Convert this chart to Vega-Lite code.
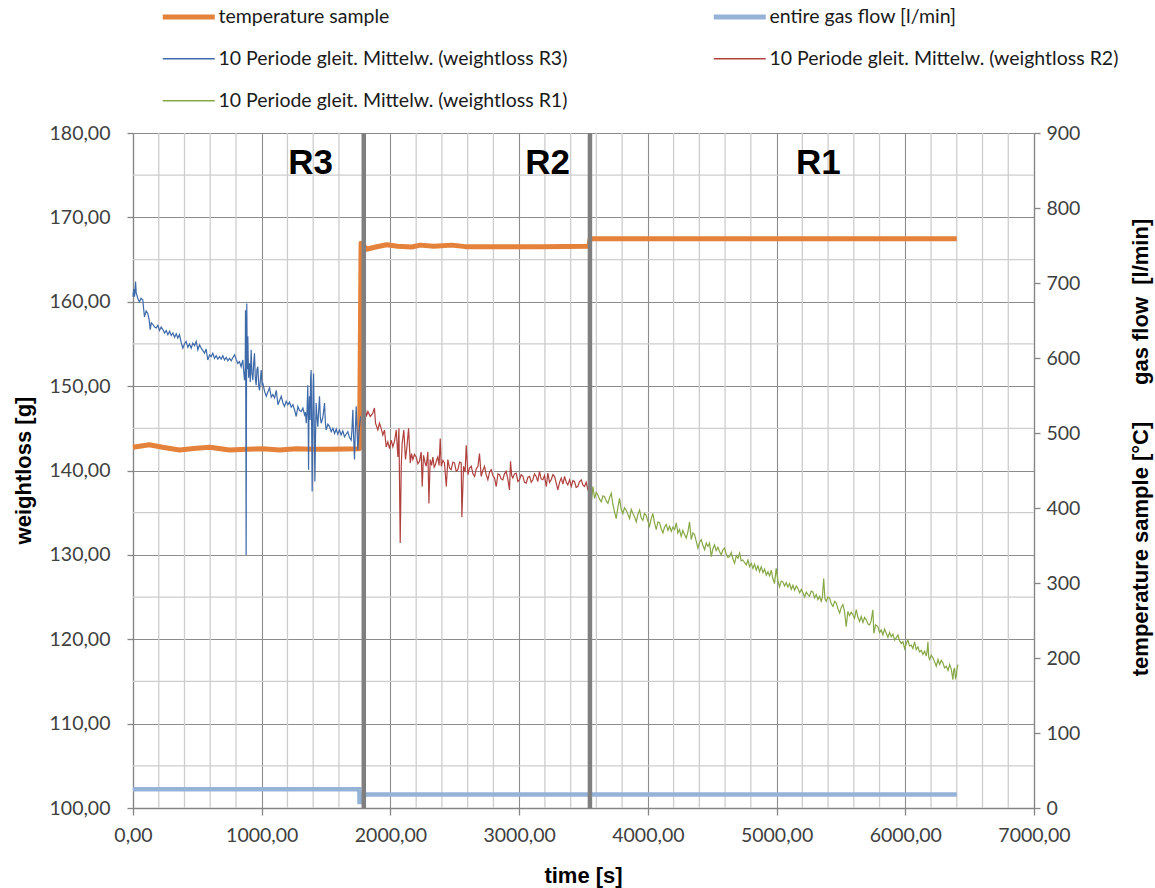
{
  "$schema": "https://vega.github.io/schema/vega-lite/v6.json",
  "width": 901,
  "height": 675,
  "autosize": {"type": "none"},
  "padding": {"left": 133, "top": 133, "right": 121, "bottom": 80},
  "background": "white",
  "config": {
    "view": {"stroke": null},
    "font": "Liberation Sans",
    "axis": {
      "labelFont": "Lato",
      "labelFontSize": 19.5,
      "labelColor": "#404040",
      "titleFont": "Liberation Sans",
      "titleFontSize": 22,
      "titleFontWeight": "bold",
      "titleColor": "#000000",
      "domainColor": "#868686",
      "domainWidth": 1.3,
      "tickColor": "#868686",
      "tickWidth": 1.3,
      "gridColor": "#8c8c8c",
      "gridWidth": 1.1,
      "labelFlush": false,
      "labelOverlap": false,
      "labelBound": false
    },
    "legend": {
      "orient": "none",
      "legendX": 30,
      "legendY": -126,
      "columns": 2,
      "columnPadding": 135,
      "rowPadding": 21,
      "padding": 0,
      "symbolType": "M-1,0H4.2",
      "symbolSize": 400,
      "labelFont": "Lato",
      "labelFontSize": 19.5,
      "labelColor": "#1a1a1a",
      "labelOffset": 36,
      "labelLimit": 0
    }
  },
  "datasets": {
    "minorX": [
      {"t": 200}, {"t": 400}, {"t": 600}, {"t": 800},
      {"t": 1200}, {"t": 1400}, {"t": 1600}, {"t": 1800},
      {"t": 2200}, {"t": 2400}, {"t": 2600}, {"t": 2800},
      {"t": 3200}, {"t": 3400}, {"t": 3600}, {"t": 3800},
      {"t": 4200}, {"t": 4400}, {"t": 4600}, {"t": 4800},
      {"t": 5200}, {"t": 5400}, {"t": 5600}, {"t": 5800},
      {"t": 6200}, {"t": 6400}, {"t": 6600}, {"t": 6800}
    ],
    "minorY": [
      {"w": 105}, {"w": 115}, {"w": 125}, {"w": 135},
      {"w": 145}, {"w": 155}, {"w": 165}, {"w": 175}
    ],
    "phaseLabels": [
      {"t": 1380, "w": 176.4, "label": "R3"},
      {"t": 3222, "w": 176.4, "label": "R2"},
      {"t": 5324, "w": 176.4, "label": "R1"}
    ],
    "phaseBounds": [{"t": 1793}, {"t": 3550}],
    "temp": [
      {"t": 0, "v": 481, "series": "temperature sample"},
      {"t": 128, "v": 484.4, "series": "temperature sample"},
      {"t": 229, "v": 481, "series": "temperature sample"},
      {"t": 361, "v": 477.3, "series": "temperature sample"},
      {"t": 491, "v": 479.6, "series": "temperature sample"},
      {"t": 595, "v": 481, "series": "temperature sample"},
      {"t": 750, "v": 477.3, "series": "temperature sample"},
      {"t": 880, "v": 478.2, "series": "temperature sample"},
      {"t": 1009, "v": 479.1, "series": "temperature sample"},
      {"t": 1139, "v": 477.3, "series": "temperature sample"},
      {"t": 1269, "v": 479, "series": "temperature sample"},
      {"t": 1395, "v": 478.2, "series": "temperature sample"},
      {"t": 1527, "v": 478.2, "series": "temperature sample"},
      {"t": 1760, "v": 479, "series": "temperature sample"},
      {"t": 1772, "v": 753, "series": "temperature sample"},
      {"t": 1815, "v": 745, "series": "temperature sample"},
      {"t": 1885, "v": 748, "series": "temperature sample"},
      {"t": 1971, "v": 751, "series": "temperature sample"},
      {"t": 2056, "v": 749, "series": "temperature sample"},
      {"t": 2165, "v": 748, "series": "temperature sample"},
      {"t": 2233, "v": 750.5, "series": "temperature sample"},
      {"t": 2336, "v": 749, "series": "temperature sample"},
      {"t": 2476, "v": 750.5, "series": "temperature sample"},
      {"t": 2582, "v": 748.5, "series": "temperature sample"},
      {"t": 2826, "v": 748.5, "series": "temperature sample"},
      {"t": 3174, "v": 748.5, "series": "temperature sample"},
      {"t": 3541, "v": 749, "series": "temperature sample"},
      {"t": 3552, "v": 759, "series": "temperature sample"},
      {"t": 6400, "v": 759, "series": "temperature sample"}
    ],
    "gas": [
      {"t": 0, "v": 25, "series": "entire gas flow [l/min]"},
      {"t": 1758, "v": 25, "series": "entire gas flow [l/min]"},
      {"t": 1760, "v": 8, "series": "entire gas flow [l/min]"},
      {"t": 1765, "v": 8, "series": "entire gas flow [l/min]"},
      {"t": 1768, "v": 18, "series": "entire gas flow [l/min]"},
      {"t": 6400, "v": 18, "series": "entire gas flow [l/min]"}
    ],
    "weight": [
      {"t": 0, "w": 160.6, "series": "10 Periode gleit. Mittelw. (weightloss R3)"},
      {"t": 6, "w": 161.5, "series": "10 Periode gleit. Mittelw. (weightloss R3)"},
      {"t": 12, "w": 160.6, "series": "10 Periode gleit. Mittelw. (weightloss R3)"},
      {"t": 20, "w": 162.4, "series": "10 Periode gleit. Mittelw. (weightloss R3)"},
      {"t": 25, "w": 161.0, "series": "10 Periode gleit. Mittelw. (weightloss R3)"},
      {"t": 30, "w": 160.8, "series": "10 Periode gleit. Mittelw. (weightloss R3)"},
      {"t": 40, "w": 160.3, "series": "10 Periode gleit. Mittelw. (weightloss R3)"},
      {"t": 50, "w": 160.0, "series": "10 Periode gleit. Mittelw. (weightloss R3)"},
      {"t": 62, "w": 160.4, "series": "10 Periode gleit. Mittelw. (weightloss R3)"},
      {"t": 76, "w": 160.2, "series": "10 Periode gleit. Mittelw. (weightloss R3)"},
      {"t": 89, "w": 158.2, "series": "10 Periode gleit. Mittelw. (weightloss R3)"},
      {"t": 102, "w": 158.9, "series": "10 Periode gleit. Mittelw. (weightloss R3)"},
      {"t": 115, "w": 158.6, "series": "10 Periode gleit. Mittelw. (weightloss R3)"},
      {"t": 125, "w": 157.9, "series": "10 Periode gleit. Mittelw. (weightloss R3)"},
      {"t": 134, "w": 156.7, "series": "10 Periode gleit. Mittelw. (weightloss R3)"},
      {"t": 142, "w": 157.5, "series": "10 Periode gleit. Mittelw. (weightloss R3)"},
      {"t": 155, "w": 157.3, "series": "10 Periode gleit. Mittelw. (weightloss R3)"},
      {"t": 168, "w": 157.0, "series": "10 Periode gleit. Mittelw. (weightloss R3)"},
      {"t": 180, "w": 156.9, "series": "10 Periode gleit. Mittelw. (weightloss R3)"},
      {"t": 193, "w": 157.2, "series": "10 Periode gleit. Mittelw. (weightloss R3)"},
      {"t": 206, "w": 156.6, "series": "10 Periode gleit. Mittelw. (weightloss R3)"},
      {"t": 219, "w": 157.0, "series": "10 Periode gleit. Mittelw. (weightloss R3)"},
      {"t": 232, "w": 156.7, "series": "10 Periode gleit. Mittelw. (weightloss R3)"},
      {"t": 245, "w": 156.3, "series": "10 Periode gleit. Mittelw. (weightloss R3)"},
      {"t": 258, "w": 156.6, "series": "10 Periode gleit. Mittelw. (weightloss R3)"},
      {"t": 271, "w": 156.1, "series": "10 Periode gleit. Mittelw. (weightloss R3)"},
      {"t": 284, "w": 156.5, "series": "10 Periode gleit. Mittelw. (weightloss R3)"},
      {"t": 297, "w": 156.0, "series": "10 Periode gleit. Mittelw. (weightloss R3)"},
      {"t": 310, "w": 156.3, "series": "10 Periode gleit. Mittelw. (weightloss R3)"},
      {"t": 323, "w": 155.8, "series": "10 Periode gleit. Mittelw. (weightloss R3)"},
      {"t": 336, "w": 156.2, "series": "10 Periode gleit. Mittelw. (weightloss R3)"},
      {"t": 348, "w": 155.7, "series": "10 Periode gleit. Mittelw. (weightloss R3)"},
      {"t": 361, "w": 156.1, "series": "10 Periode gleit. Mittelw. (weightloss R3)"},
      {"t": 374, "w": 155.2, "series": "10 Periode gleit. Mittelw. (weightloss R3)"},
      {"t": 387, "w": 154.5, "series": "10 Periode gleit. Mittelw. (weightloss R3)"},
      {"t": 400, "w": 155.0, "series": "10 Periode gleit. Mittelw. (weightloss R3)"},
      {"t": 413, "w": 155.3, "series": "10 Periode gleit. Mittelw. (weightloss R3)"},
      {"t": 426, "w": 154.6, "series": "10 Periode gleit. Mittelw. (weightloss R3)"},
      {"t": 439, "w": 155.0, "series": "10 Periode gleit. Mittelw. (weightloss R3)"},
      {"t": 452, "w": 154.5, "series": "10 Periode gleit. Mittelw. (weightloss R3)"},
      {"t": 465, "w": 155.1, "series": "10 Periode gleit. Mittelw. (weightloss R3)"},
      {"t": 478, "w": 154.8, "series": "10 Periode gleit. Mittelw. (weightloss R3)"},
      {"t": 491, "w": 155.3, "series": "10 Periode gleit. Mittelw. (weightloss R3)"},
      {"t": 504, "w": 154.3, "series": "10 Periode gleit. Mittelw. (weightloss R3)"},
      {"t": 517, "w": 154.9, "series": "10 Periode gleit. Mittelw. (weightloss R3)"},
      {"t": 530, "w": 154.5, "series": "10 Periode gleit. Mittelw. (weightloss R3)"},
      {"t": 543, "w": 154.2, "series": "10 Periode gleit. Mittelw. (weightloss R3)"},
      {"t": 556, "w": 153.9, "series": "10 Periode gleit. Mittelw. (weightloss R3)"},
      {"t": 568, "w": 154.4, "series": "10 Periode gleit. Mittelw. (weightloss R3)"},
      {"t": 581, "w": 153.1, "series": "10 Periode gleit. Mittelw. (weightloss R3)"},
      {"t": 595, "w": 153.7, "series": "10 Periode gleit. Mittelw. (weightloss R3)"},
      {"t": 607, "w": 153.5, "series": "10 Periode gleit. Mittelw. (weightloss R3)"},
      {"t": 620, "w": 153.9, "series": "10 Periode gleit. Mittelw. (weightloss R3)"},
      {"t": 633, "w": 153.3, "series": "10 Periode gleit. Mittelw. (weightloss R3)"},
      {"t": 646, "w": 153.6, "series": "10 Periode gleit. Mittelw. (weightloss R3)"},
      {"t": 659, "w": 153.2, "series": "10 Periode gleit. Mittelw. (weightloss R3)"},
      {"t": 672, "w": 153.5, "series": "10 Periode gleit. Mittelw. (weightloss R3)"},
      {"t": 685, "w": 153.2, "series": "10 Periode gleit. Mittelw. (weightloss R3)"},
      {"t": 698, "w": 153.6, "series": "10 Periode gleit. Mittelw. (weightloss R3)"},
      {"t": 711, "w": 153.1, "series": "10 Periode gleit. Mittelw. (weightloss R3)"},
      {"t": 724, "w": 153.4, "series": "10 Periode gleit. Mittelw. (weightloss R3)"},
      {"t": 737, "w": 153.0, "series": "10 Periode gleit. Mittelw. (weightloss R3)"},
      {"t": 750, "w": 153.3, "series": "10 Periode gleit. Mittelw. (weightloss R3)"},
      {"t": 763, "w": 153.0, "series": "10 Periode gleit. Mittelw. (weightloss R3)"},
      {"t": 776, "w": 153.4, "series": "10 Periode gleit. Mittelw. (weightloss R3)"},
      {"t": 789, "w": 153.7, "series": "10 Periode gleit. Mittelw. (weightloss R3)"},
      {"t": 801, "w": 153.2, "series": "10 Periode gleit. Mittelw. (weightloss R3)"},
      {"t": 814, "w": 152.7, "series": "10 Periode gleit. Mittelw. (weightloss R3)"},
      {"t": 827, "w": 152.9, "series": "10 Periode gleit. Mittelw. (weightloss R3)"},
      {"t": 840, "w": 152.3, "series": "10 Periode gleit. Mittelw. (weightloss R3)"},
      {"t": 853, "w": 153.1, "series": "10 Periode gleit. Mittelw. (weightloss R3)"},
      {"t": 866, "w": 150.7, "series": "10 Periode gleit. Mittelw. (weightloss R3)"},
      {"t": 872, "w": 152.0, "series": "10 Periode gleit. Mittelw. (weightloss R3)"},
      {"t": 874, "w": 159.0, "series": "10 Periode gleit. Mittelw. (weightloss R3)"},
      {"t": 877, "w": 145.0, "series": "10 Periode gleit. Mittelw. (weightloss R3)"},
      {"t": 879, "w": 130.0, "series": "10 Periode gleit. Mittelw. (weightloss R3)"},
      {"t": 881, "w": 145.0, "series": "10 Periode gleit. Mittelw. (weightloss R3)"},
      {"t": 884, "w": 159.8, "series": "10 Periode gleit. Mittelw. (weightloss R3)"},
      {"t": 888, "w": 152.0, "series": "10 Periode gleit. Mittelw. (weightloss R3)"},
      {"t": 892, "w": 155.9, "series": "10 Periode gleit. Mittelw. (weightloss R3)"},
      {"t": 898, "w": 151.0, "series": "10 Periode gleit. Mittelw. (weightloss R3)"},
      {"t": 905, "w": 152.7, "series": "10 Periode gleit. Mittelw. (weightloss R3)"},
      {"t": 911, "w": 150.5, "series": "10 Periode gleit. Mittelw. (weightloss R3)"},
      {"t": 918, "w": 154.3, "series": "10 Periode gleit. Mittelw. (weightloss R3)"},
      {"t": 924, "w": 151.5, "series": "10 Periode gleit. Mittelw. (weightloss R3)"},
      {"t": 931, "w": 150.7, "series": "10 Periode gleit. Mittelw. (weightloss R3)"},
      {"t": 938, "w": 152.8, "series": "10 Periode gleit. Mittelw. (weightloss R3)"},
      {"t": 944, "w": 153.9, "series": "10 Periode gleit. Mittelw. (weightloss R3)"},
      {"t": 950, "w": 151.0, "series": "10 Periode gleit. Mittelw. (weightloss R3)"},
      {"t": 957, "w": 150.1, "series": "10 Periode gleit. Mittelw. (weightloss R3)"},
      {"t": 963, "w": 152.0, "series": "10 Periode gleit. Mittelw. (weightloss R3)"},
      {"t": 970, "w": 152.3, "series": "10 Periode gleit. Mittelw. (weightloss R3)"},
      {"t": 977, "w": 150.0, "series": "10 Periode gleit. Mittelw. (weightloss R3)"},
      {"t": 983, "w": 149.5, "series": "10 Periode gleit. Mittelw. (weightloss R3)"},
      {"t": 990, "w": 150.8, "series": "10 Periode gleit. Mittelw. (weightloss R3)"},
      {"t": 996, "w": 151.9, "series": "10 Periode gleit. Mittelw. (weightloss R3)"},
      {"t": 1003, "w": 150.2, "series": "10 Periode gleit. Mittelw. (weightloss R3)"},
      {"t": 1009, "w": 150.3, "series": "10 Periode gleit. Mittelw. (weightloss R3)"},
      {"t": 1022, "w": 149.4, "series": "10 Periode gleit. Mittelw. (weightloss R3)"},
      {"t": 1035, "w": 148.8, "series": "10 Periode gleit. Mittelw. (weightloss R3)"},
      {"t": 1048, "w": 149.3, "series": "10 Periode gleit. Mittelw. (weightloss R3)"},
      {"t": 1061, "w": 149.8, "series": "10 Periode gleit. Mittelw. (weightloss R3)"},
      {"t": 1074, "w": 148.7, "series": "10 Periode gleit. Mittelw. (weightloss R3)"},
      {"t": 1087, "w": 149.0, "series": "10 Periode gleit. Mittelw. (weightloss R3)"},
      {"t": 1100, "w": 148.6, "series": "10 Periode gleit. Mittelw. (weightloss R3)"},
      {"t": 1113, "w": 149.5, "series": "10 Periode gleit. Mittelw. (weightloss R3)"},
      {"t": 1126, "w": 147.8, "series": "10 Periode gleit. Mittelw. (weightloss R3)"},
      {"t": 1139, "w": 148.3, "series": "10 Periode gleit. Mittelw. (weightloss R3)"},
      {"t": 1152, "w": 148.8, "series": "10 Periode gleit. Mittelw. (weightloss R3)"},
      {"t": 1165, "w": 148.0, "series": "10 Periode gleit. Mittelw. (weightloss R3)"},
      {"t": 1177, "w": 147.6, "series": "10 Periode gleit. Mittelw. (weightloss R3)"},
      {"t": 1190, "w": 148.2, "series": "10 Periode gleit. Mittelw. (weightloss R3)"},
      {"t": 1203, "w": 147.8, "series": "10 Periode gleit. Mittelw. (weightloss R3)"},
      {"t": 1216, "w": 148.1, "series": "10 Periode gleit. Mittelw. (weightloss R3)"},
      {"t": 1229, "w": 147.5, "series": "10 Periode gleit. Mittelw. (weightloss R3)"},
      {"t": 1242, "w": 147.8, "series": "10 Periode gleit. Mittelw. (weightloss R3)"},
      {"t": 1255, "w": 147.2, "series": "10 Periode gleit. Mittelw. (weightloss R3)"},
      {"t": 1268, "w": 146.4, "series": "10 Periode gleit. Mittelw. (weightloss R3)"},
      {"t": 1281, "w": 147.6, "series": "10 Periode gleit. Mittelw. (weightloss R3)"},
      {"t": 1294, "w": 147.1, "series": "10 Periode gleit. Mittelw. (weightloss R3)"},
      {"t": 1307, "w": 147.0, "series": "10 Periode gleit. Mittelw. (weightloss R3)"},
      {"t": 1320, "w": 147.4, "series": "10 Periode gleit. Mittelw. (weightloss R3)"},
      {"t": 1333, "w": 146.6, "series": "10 Periode gleit. Mittelw. (weightloss R3)"},
      {"t": 1340, "w": 146.9, "series": "10 Periode gleit. Mittelw. (weightloss R3)"},
      {"t": 1346, "w": 145.6, "series": "10 Periode gleit. Mittelw. (weightloss R3)"},
      {"t": 1352, "w": 147.0, "series": "10 Periode gleit. Mittelw. (weightloss R3)"},
      {"t": 1358, "w": 150.1, "series": "10 Periode gleit. Mittelw. (weightloss R3)"},
      {"t": 1361, "w": 146.0, "series": "10 Periode gleit. Mittelw. (weightloss R3)"},
      {"t": 1364, "w": 140.1, "series": "10 Periode gleit. Mittelw. (weightloss R3)"},
      {"t": 1367, "w": 146.5, "series": "10 Periode gleit. Mittelw. (weightloss R3)"},
      {"t": 1371, "w": 148.8, "series": "10 Periode gleit. Mittelw. (weightloss R3)"},
      {"t": 1376, "w": 146.0, "series": "10 Periode gleit. Mittelw. (weightloss R3)"},
      {"t": 1380, "w": 151.0, "series": "10 Periode gleit. Mittelw. (weightloss R3)"},
      {"t": 1384, "w": 151.9, "series": "10 Periode gleit. Mittelw. (weightloss R3)"},
      {"t": 1388, "w": 145.0, "series": "10 Periode gleit. Mittelw. (weightloss R3)"},
      {"t": 1392, "w": 137.5, "series": "10 Periode gleit. Mittelw. (weightloss R3)"},
      {"t": 1396, "w": 144.5, "series": "10 Periode gleit. Mittelw. (weightloss R3)"},
      {"t": 1400, "w": 150.0, "series": "10 Periode gleit. Mittelw. (weightloss R3)"},
      {"t": 1403, "w": 151.5, "series": "10 Periode gleit. Mittelw. (weightloss R3)"},
      {"t": 1408, "w": 145.5, "series": "10 Periode gleit. Mittelw. (weightloss R3)"},
      {"t": 1413, "w": 138.7, "series": "10 Periode gleit. Mittelw. (weightloss R3)"},
      {"t": 1418, "w": 144.0, "series": "10 Periode gleit. Mittelw. (weightloss R3)"},
      {"t": 1423, "w": 148.0, "series": "10 Periode gleit. Mittelw. (weightloss R3)"},
      {"t": 1430, "w": 146.2, "series": "10 Periode gleit. Mittelw. (weightloss R3)"},
      {"t": 1436, "w": 145.2, "series": "10 Periode gleit. Mittelw. (weightloss R3)"},
      {"t": 1442, "w": 147.0, "series": "10 Periode gleit. Mittelw. (weightloss R3)"},
      {"t": 1449, "w": 148.8, "series": "10 Periode gleit. Mittelw. (weightloss R3)"},
      {"t": 1455, "w": 146.4, "series": "10 Periode gleit. Mittelw. (weightloss R3)"},
      {"t": 1462, "w": 145.6, "series": "10 Periode gleit. Mittelw. (weightloss R3)"},
      {"t": 1475, "w": 146.3, "series": "10 Periode gleit. Mittelw. (weightloss R3)"},
      {"t": 1488, "w": 148.0, "series": "10 Periode gleit. Mittelw. (weightloss R3)"},
      {"t": 1495, "w": 145.6, "series": "10 Periode gleit. Mittelw. (weightloss R3)"},
      {"t": 1501, "w": 144.8, "series": "10 Periode gleit. Mittelw. (weightloss R3)"},
      {"t": 1514, "w": 145.5, "series": "10 Periode gleit. Mittelw. (weightloss R3)"},
      {"t": 1527, "w": 145.2, "series": "10 Periode gleit. Mittelw. (weightloss R3)"},
      {"t": 1540, "w": 144.6, "series": "10 Periode gleit. Mittelw. (weightloss R3)"},
      {"t": 1553, "w": 145.0, "series": "10 Periode gleit. Mittelw. (weightloss R3)"},
      {"t": 1566, "w": 144.4, "series": "10 Periode gleit. Mittelw. (weightloss R3)"},
      {"t": 1579, "w": 144.9, "series": "10 Periode gleit. Mittelw. (weightloss R3)"},
      {"t": 1591, "w": 144.3, "series": "10 Periode gleit. Mittelw. (weightloss R3)"},
      {"t": 1604, "w": 144.8, "series": "10 Periode gleit. Mittelw. (weightloss R3)"},
      {"t": 1617, "w": 144.2, "series": "10 Periode gleit. Mittelw. (weightloss R3)"},
      {"t": 1630, "w": 144.7, "series": "10 Periode gleit. Mittelw. (weightloss R3)"},
      {"t": 1643, "w": 144.0, "series": "10 Periode gleit. Mittelw. (weightloss R3)"},
      {"t": 1656, "w": 144.3, "series": "10 Periode gleit. Mittelw. (weightloss R3)"},
      {"t": 1669, "w": 144.6, "series": "10 Periode gleit. Mittelw. (weightloss R3)"},
      {"t": 1682, "w": 143.9, "series": "10 Periode gleit. Mittelw. (weightloss R3)"},
      {"t": 1695, "w": 143.6, "series": "10 Periode gleit. Mittelw. (weightloss R3)"},
      {"t": 1700, "w": 144.5, "series": "10 Periode gleit. Mittelw. (weightloss R3)"},
      {"t": 1708, "w": 147.2, "series": "10 Periode gleit. Mittelw. (weightloss R3)"},
      {"t": 1714, "w": 144.0, "series": "10 Periode gleit. Mittelw. (weightloss R3)"},
      {"t": 1721, "w": 141.3, "series": "10 Periode gleit. Mittelw. (weightloss R3)"},
      {"t": 1727, "w": 144.5, "series": "10 Periode gleit. Mittelw. (weightloss R3)"},
      {"t": 1734, "w": 147.6, "series": "10 Periode gleit. Mittelw. (weightloss R3)"},
      {"t": 1740, "w": 145.0, "series": "10 Periode gleit. Mittelw. (weightloss R3)"},
      {"t": 1747, "w": 142.4, "series": "10 Periode gleit. Mittelw. (weightloss R3)"},
      {"t": 1753, "w": 144.0, "series": "10 Periode gleit. Mittelw. (weightloss R3)"},
      {"t": 1760, "w": 145.2, "series": "10 Periode gleit. Mittelw. (weightloss R3)"},
      {"t": 1768, "w": 146.4, "series": "10 Periode gleit. Mittelw. (weightloss R3)"},

      {"t": 1786, "w": 147.2, "series": "10 Periode gleit. Mittelw. (weightloss R2)"},
      {"t": 1799, "w": 148.4, "series": "10 Periode gleit. Mittelw. (weightloss R2)"},
      {"t": 1812, "w": 146.4, "series": "10 Periode gleit. Mittelw. (weightloss R2)"},
      {"t": 1825, "w": 147.0, "series": "10 Periode gleit. Mittelw. (weightloss R2)"},
      {"t": 1843, "w": 146.4, "series": "10 Periode gleit. Mittelw. (weightloss R2)"},
      {"t": 1863, "w": 146.8, "series": "10 Periode gleit. Mittelw. (weightloss R2)"},
      {"t": 1876, "w": 147.4, "series": "10 Periode gleit. Mittelw. (weightloss R2)"},
      {"t": 1884, "w": 145.6, "series": "10 Periode gleit. Mittelw. (weightloss R2)"},
      {"t": 1902, "w": 144.8, "series": "10 Periode gleit. Mittelw. (weightloss R2)"},
      {"t": 1915, "w": 145.6, "series": "10 Periode gleit. Mittelw. (weightloss R2)"},
      {"t": 1928, "w": 145.0, "series": "10 Periode gleit. Mittelw. (weightloss R2)"},
      {"t": 1941, "w": 144.2, "series": "10 Periode gleit. Mittelw. (weightloss R2)"},
      {"t": 1954, "w": 144.8, "series": "10 Periode gleit. Mittelw. (weightloss R2)"},
      {"t": 1967, "w": 142.8, "series": "10 Periode gleit. Mittelw. (weightloss R2)"},
      {"t": 1980, "w": 143.4, "series": "10 Periode gleit. Mittelw. (weightloss R2)"},
      {"t": 1993, "w": 142.6, "series": "10 Periode gleit. Mittelw. (weightloss R2)"},
      {"t": 2006, "w": 143.6, "series": "10 Periode gleit. Mittelw. (weightloss R2)"},
      {"t": 2019, "w": 142.8, "series": "10 Periode gleit. Mittelw. (weightloss R2)"},
      {"t": 2032, "w": 143.5, "series": "10 Periode gleit. Mittelw. (weightloss R2)"},
      {"t": 2045, "w": 144.8, "series": "10 Periode gleit. Mittelw. (weightloss R2)"},
      {"t": 2058, "w": 141.6, "series": "10 Periode gleit. Mittelw. (weightloss R2)"},
      {"t": 2066, "w": 145.0, "series": "10 Periode gleit. Mittelw. (weightloss R2)"},
      {"t": 2076, "w": 131.4, "series": "10 Periode gleit. Mittelw. (weightloss R2)"},
      {"t": 2084, "w": 140.5, "series": "10 Periode gleit. Mittelw. (weightloss R2)"},
      {"t": 2091, "w": 143.2, "series": "10 Periode gleit. Mittelw. (weightloss R2)"},
      {"t": 2104, "w": 144.8, "series": "10 Periode gleit. Mittelw. (weightloss R2)"},
      {"t": 2117, "w": 141.3, "series": "10 Periode gleit. Mittelw. (weightloss R2)"},
      {"t": 2128, "w": 142.8, "series": "10 Periode gleit. Mittelw. (weightloss R2)"},
      {"t": 2141, "w": 145.0, "series": "10 Periode gleit. Mittelw. (weightloss R2)"},
      {"t": 2154, "w": 140.9, "series": "10 Periode gleit. Mittelw. (weightloss R2)"},
      {"t": 2164, "w": 142.0, "series": "10 Periode gleit. Mittelw. (weightloss R2)"},
      {"t": 2174, "w": 141.3, "series": "10 Periode gleit. Mittelw. (weightloss R2)"},
      {"t": 2187, "w": 141.9, "series": "10 Periode gleit. Mittelw. (weightloss R2)"},
      {"t": 2200, "w": 141.6, "series": "10 Periode gleit. Mittelw. (weightloss R2)"},
      {"t": 2213, "w": 140.8, "series": "10 Periode gleit. Mittelw. (weightloss R2)"},
      {"t": 2226, "w": 141.1, "series": "10 Periode gleit. Mittelw. (weightloss R2)"},
      {"t": 2239, "w": 142.2, "series": "10 Periode gleit. Mittelw. (weightloss R2)"},
      {"t": 2247, "w": 138.1, "series": "10 Periode gleit. Mittelw. (weightloss R2)"},
      {"t": 2257, "w": 141.8, "series": "10 Periode gleit. Mittelw. (weightloss R2)"},
      {"t": 2268, "w": 141.0, "series": "10 Periode gleit. Mittelw. (weightloss R2)"},
      {"t": 2278, "w": 140.5, "series": "10 Periode gleit. Mittelw. (weightloss R2)"},
      {"t": 2291, "w": 142.2, "series": "10 Periode gleit. Mittelw. (weightloss R2)"},
      {"t": 2299, "w": 136.1, "series": "10 Periode gleit. Mittelw. (weightloss R2)"},
      {"t": 2309, "w": 141.3, "series": "10 Periode gleit. Mittelw. (weightloss R2)"},
      {"t": 2320, "w": 140.6, "series": "10 Periode gleit. Mittelw. (weightloss R2)"},
      {"t": 2330, "w": 141.6, "series": "10 Periode gleit. Mittelw. (weightloss R2)"},
      {"t": 2340, "w": 140.4, "series": "10 Periode gleit. Mittelw. (weightloss R2)"},
      {"t": 2350, "w": 140.7, "series": "10 Periode gleit. Mittelw. (weightloss R2)"},
      {"t": 2360, "w": 141.3, "series": "10 Periode gleit. Mittelw. (weightloss R2)"},
      {"t": 2368, "w": 141.6, "series": "10 Periode gleit. Mittelw. (weightloss R2)"},
      {"t": 2378, "w": 140.6, "series": "10 Periode gleit. Mittelw. (weightloss R2)"},
      {"t": 2387, "w": 143.8, "series": "10 Periode gleit. Mittelw. (weightloss R2)"},
      {"t": 2395, "w": 140.5, "series": "10 Periode gleit. Mittelw. (weightloss R2)"},
      {"t": 2408, "w": 141.2, "series": "10 Periode gleit. Mittelw. (weightloss R2)"},
      {"t": 2420, "w": 140.9, "series": "10 Periode gleit. Mittelw. (weightloss R2)"},
      {"t": 2434, "w": 138.1, "series": "10 Periode gleit. Mittelw. (weightloss R2)"},
      {"t": 2446, "w": 141.3, "series": "10 Periode gleit. Mittelw. (weightloss R2)"},
      {"t": 2459, "w": 140.3, "series": "10 Periode gleit. Mittelw. (weightloss R2)"},
      {"t": 2472, "w": 140.1, "series": "10 Periode gleit. Mittelw. (weightloss R2)"},
      {"t": 2485, "w": 141.0, "series": "10 Periode gleit. Mittelw. (weightloss R2)"},
      {"t": 2498, "w": 140.9, "series": "10 Periode gleit. Mittelw. (weightloss R2)"},
      {"t": 2511, "w": 139.9, "series": "10 Periode gleit. Mittelw. (weightloss R2)"},
      {"t": 2524, "w": 140.1, "series": "10 Periode gleit. Mittelw. (weightloss R2)"},
      {"t": 2537, "w": 141.0, "series": "10 Periode gleit. Mittelw. (weightloss R2)"},
      {"t": 2550, "w": 140.9, "series": "10 Periode gleit. Mittelw. (weightloss R2)"},
      {"t": 2555, "w": 134.5, "series": "10 Periode gleit. Mittelw. (weightloss R2)"},
      {"t": 2568, "w": 140.5, "series": "10 Periode gleit. Mittelw. (weightloss R2)"},
      {"t": 2580, "w": 139.8, "series": "10 Periode gleit. Mittelw. (weightloss R2)"},
      {"t": 2589, "w": 143.0, "series": "10 Periode gleit. Mittelw. (weightloss R2)"},
      {"t": 2602, "w": 139.5, "series": "10 Periode gleit. Mittelw. (weightloss R2)"},
      {"t": 2615, "w": 140.3, "series": "10 Periode gleit. Mittelw. (weightloss R2)"},
      {"t": 2628, "w": 140.5, "series": "10 Periode gleit. Mittelw. (weightloss R2)"},
      {"t": 2641, "w": 139.6, "series": "10 Periode gleit. Mittelw. (weightloss R2)"},
      {"t": 2654, "w": 139.3, "series": "10 Periode gleit. Mittelw. (weightloss R2)"},
      {"t": 2667, "w": 140.2, "series": "10 Periode gleit. Mittelw. (weightloss R2)"},
      {"t": 2680, "w": 140.5, "series": "10 Periode gleit. Mittelw. (weightloss R2)"},
      {"t": 2692, "w": 142.0, "series": "10 Periode gleit. Mittelw. (weightloss R2)"},
      {"t": 2705, "w": 139.3, "series": "10 Periode gleit. Mittelw. (weightloss R2)"},
      {"t": 2718, "w": 140.0, "series": "10 Periode gleit. Mittelw. (weightloss R2)"},
      {"t": 2731, "w": 140.5, "series": "10 Periode gleit. Mittelw. (weightloss R2)"},
      {"t": 2744, "w": 139.5, "series": "10 Periode gleit. Mittelw. (weightloss R2)"},
      {"t": 2757, "w": 138.9, "series": "10 Periode gleit. Mittelw. (weightloss R2)"},
      {"t": 2770, "w": 139.8, "series": "10 Periode gleit. Mittelw. (weightloss R2)"},
      {"t": 2783, "w": 140.1, "series": "10 Periode gleit. Mittelw. (weightloss R2)"},
      {"t": 2796, "w": 139.4, "series": "10 Periode gleit. Mittelw. (weightloss R2)"},
      {"t": 2809, "w": 139.1, "series": "10 Periode gleit. Mittelw. (weightloss R2)"},
      {"t": 2822, "w": 138.1, "series": "10 Periode gleit. Mittelw. (weightloss R2)"},
      {"t": 2835, "w": 139.6, "series": "10 Periode gleit. Mittelw. (weightloss R2)"},
      {"t": 2848, "w": 139.5, "series": "10 Periode gleit. Mittelw. (weightloss R2)"},
      {"t": 2860, "w": 139.0, "series": "10 Periode gleit. Mittelw. (weightloss R2)"},
      {"t": 2873, "w": 138.9, "series": "10 Periode gleit. Mittelw. (weightloss R2)"},
      {"t": 2886, "w": 139.6, "series": "10 Periode gleit. Mittelw. (weightloss R2)"},
      {"t": 2899, "w": 139.9, "series": "10 Periode gleit. Mittelw. (weightloss R2)"},
      {"t": 2912, "w": 139.0, "series": "10 Periode gleit. Mittelw. (weightloss R2)"},
      {"t": 2925, "w": 137.7, "series": "10 Periode gleit. Mittelw. (weightloss R2)"},
      {"t": 2933, "w": 141.1, "series": "10 Periode gleit. Mittelw. (weightloss R2)"},
      {"t": 2942, "w": 139.4, "series": "10 Periode gleit. Mittelw. (weightloss R2)"},
      {"t": 2951, "w": 139.1, "series": "10 Periode gleit. Mittelw. (weightloss R2)"},
      {"t": 2964, "w": 139.6, "series": "10 Periode gleit. Mittelw. (weightloss R2)"},
      {"t": 2977, "w": 139.7, "series": "10 Periode gleit. Mittelw. (weightloss R2)"},
      {"t": 2990, "w": 138.7, "series": "10 Periode gleit. Mittelw. (weightloss R2)"},
      {"t": 3003, "w": 138.9, "series": "10 Periode gleit. Mittelw. (weightloss R2)"},
      {"t": 3016, "w": 139.5, "series": "10 Periode gleit. Mittelw. (weightloss R2)"},
      {"t": 3029, "w": 139.3, "series": "10 Periode gleit. Mittelw. (weightloss R2)"},
      {"t": 3042, "w": 138.6, "series": "10 Periode gleit. Mittelw. (weightloss R2)"},
      {"t": 3055, "w": 138.5, "series": "10 Periode gleit. Mittelw. (weightloss R2)"},
      {"t": 3068, "w": 139.2, "series": "10 Periode gleit. Mittelw. (weightloss R2)"},
      {"t": 3081, "w": 139.3, "series": "10 Periode gleit. Mittelw. (weightloss R2)"},
      {"t": 3094, "w": 138.6, "series": "10 Periode gleit. Mittelw. (weightloss R2)"},
      {"t": 3106, "w": 138.9, "series": "10 Periode gleit. Mittelw. (weightloss R2)"},
      {"t": 3119, "w": 139.6, "series": "10 Periode gleit. Mittelw. (weightloss R2)"},
      {"t": 3132, "w": 139.3, "series": "10 Periode gleit. Mittelw. (weightloss R2)"},
      {"t": 3145, "w": 138.7, "series": "10 Periode gleit. Mittelw. (weightloss R2)"},
      {"t": 3158, "w": 139.9, "series": "10 Periode gleit. Mittelw. (weightloss R2)"},
      {"t": 3171, "w": 139.0, "series": "10 Periode gleit. Mittelw. (weightloss R2)"},
      {"t": 3184, "w": 138.9, "series": "10 Periode gleit. Mittelw. (weightloss R2)"},
      {"t": 3197, "w": 139.4, "series": "10 Periode gleit. Mittelw. (weightloss R2)"},
      {"t": 3211, "w": 138.1, "series": "10 Periode gleit. Mittelw. (weightloss R2)"},
      {"t": 3223, "w": 139.7, "series": "10 Periode gleit. Mittelw. (weightloss R2)"},
      {"t": 3236, "w": 138.6, "series": "10 Periode gleit. Mittelw. (weightloss R2)"},
      {"t": 3249, "w": 138.9, "series": "10 Periode gleit. Mittelw. (weightloss R2)"},
      {"t": 3262, "w": 139.5, "series": "10 Periode gleit. Mittelw. (weightloss R2)"},
      {"t": 3275, "w": 139.3, "series": "10 Periode gleit. Mittelw. (weightloss R2)"},
      {"t": 3288, "w": 138.5, "series": "10 Periode gleit. Mittelw. (weightloss R2)"},
      {"t": 3301, "w": 137.7, "series": "10 Periode gleit. Mittelw. (weightloss R2)"},
      {"t": 3314, "w": 138.6, "series": "10 Periode gleit. Mittelw. (weightloss R2)"},
      {"t": 3327, "w": 139.1, "series": "10 Periode gleit. Mittelw. (weightloss R2)"},
      {"t": 3340, "w": 138.4, "series": "10 Periode gleit. Mittelw. (weightloss R2)"},
      {"t": 3353, "w": 139.3, "series": "10 Periode gleit. Mittelw. (weightloss R2)"},
      {"t": 3366, "w": 138.6, "series": "10 Periode gleit. Mittelw. (weightloss R2)"},
      {"t": 3378, "w": 138.3, "series": "10 Periode gleit. Mittelw. (weightloss R2)"},
      {"t": 3392, "w": 138.9, "series": "10 Periode gleit. Mittelw. (weightloss R2)"},
      {"t": 3405, "w": 138.1, "series": "10 Periode gleit. Mittelw. (weightloss R2)"},
      {"t": 3418, "w": 138.8, "series": "10 Periode gleit. Mittelw. (weightloss R2)"},
      {"t": 3430, "w": 138.7, "series": "10 Periode gleit. Mittelw. (weightloss R2)"},
      {"t": 3443, "w": 138.0, "series": "10 Periode gleit. Mittelw. (weightloss R2)"},
      {"t": 3456, "w": 138.1, "series": "10 Periode gleit. Mittelw. (weightloss R2)"},
      {"t": 3469, "w": 138.7, "series": "10 Periode gleit. Mittelw. (weightloss R2)"},
      {"t": 3483, "w": 138.9, "series": "10 Periode gleit. Mittelw. (weightloss R2)"},
      {"t": 3495, "w": 138.3, "series": "10 Periode gleit. Mittelw. (weightloss R2)"},
      {"t": 3508, "w": 138.1, "series": "10 Periode gleit. Mittelw. (weightloss R2)"},
      {"t": 3521, "w": 138.6, "series": "10 Periode gleit. Mittelw. (weightloss R2)"},
      {"t": 3534, "w": 137.7, "series": "10 Periode gleit. Mittelw. (weightloss R2)"},
      {"t": 3547, "w": 137.3, "series": "10 Periode gleit. Mittelw. (weightloss R2)"},

      {"t": 3547, "w": 137.3, "series": "10 Periode gleit. Mittelw. (weightloss R1)"},
      {"t": 3553, "w": 138.5, "series": "10 Periode gleit. Mittelw. (weightloss R1)"},
      {"t": 3560, "w": 136.1, "series": "10 Periode gleit. Mittelw. (weightloss R1)"},
      {"t": 3573, "w": 138.1, "series": "10 Periode gleit. Mittelw. (weightloss R1)"},
      {"t": 3586, "w": 136.7, "series": "10 Periode gleit. Mittelw. (weightloss R1)"},
      {"t": 3599, "w": 137.4, "series": "10 Periode gleit. Mittelw. (weightloss R1)"},
      {"t": 3612, "w": 137.1, "series": "10 Periode gleit. Mittelw. (weightloss R1)"},
      {"t": 3625, "w": 136.6, "series": "10 Periode gleit. Mittelw. (weightloss R1)"},
      {"t": 3638, "w": 136.3, "series": "10 Periode gleit. Mittelw. (weightloss R1)"},
      {"t": 3651, "w": 137.0, "series": "10 Periode gleit. Mittelw. (weightloss R1)"},
      {"t": 3664, "w": 136.9, "series": "10 Periode gleit. Mittelw. (weightloss R1)"},
      {"t": 3677, "w": 136.4, "series": "10 Periode gleit. Mittelw. (weightloss R1)"},
      {"t": 3690, "w": 136.1, "series": "10 Periode gleit. Mittelw. (weightloss R1)"},
      {"t": 3703, "w": 136.8, "series": "10 Periode gleit. Mittelw. (weightloss R1)"},
      {"t": 3716, "w": 137.3, "series": "10 Periode gleit. Mittelw. (weightloss R1)"},
      {"t": 3728, "w": 136.0, "series": "10 Periode gleit. Mittelw. (weightloss R1)"},
      {"t": 3741, "w": 135.1, "series": "10 Periode gleit. Mittelw. (weightloss R1)"},
      {"t": 3754, "w": 134.3, "series": "10 Periode gleit. Mittelw. (weightloss R1)"},
      {"t": 3767, "w": 135.6, "series": "10 Periode gleit. Mittelw. (weightloss R1)"},
      {"t": 3780, "w": 136.7, "series": "10 Periode gleit. Mittelw. (weightloss R1)"},
      {"t": 3793, "w": 135.4, "series": "10 Periode gleit. Mittelw. (weightloss R1)"},
      {"t": 3806, "w": 134.9, "series": "10 Periode gleit. Mittelw. (weightloss R1)"},
      {"t": 3819, "w": 135.6, "series": "10 Periode gleit. Mittelw. (weightloss R1)"},
      {"t": 3832, "w": 135.3, "series": "10 Periode gleit. Mittelw. (weightloss R1)"},
      {"t": 3845, "w": 134.8, "series": "10 Periode gleit. Mittelw. (weightloss R1)"},
      {"t": 3858, "w": 134.3, "series": "10 Periode gleit. Mittelw. (weightloss R1)"},
      {"t": 3871, "w": 135.4, "series": "10 Periode gleit. Mittelw. (weightloss R1)"},
      {"t": 3884, "w": 134.9, "series": "10 Periode gleit. Mittelw. (weightloss R1)"},
      {"t": 3897, "w": 134.5, "series": "10 Periode gleit. Mittelw. (weightloss R1)"},
      {"t": 3910, "w": 133.9, "series": "10 Periode gleit. Mittelw. (weightloss R1)"},
      {"t": 3923, "w": 134.8, "series": "10 Periode gleit. Mittelw. (weightloss R1)"},
      {"t": 3936, "w": 135.3, "series": "10 Periode gleit. Mittelw. (weightloss R1)"},
      {"t": 3948, "w": 134.4, "series": "10 Periode gleit. Mittelw. (weightloss R1)"},
      {"t": 3961, "w": 134.1, "series": "10 Periode gleit. Mittelw. (weightloss R1)"},
      {"t": 3974, "w": 134.9, "series": "10 Periode gleit. Mittelw. (weightloss R1)"},
      {"t": 3987, "w": 134.7, "series": "10 Periode gleit. Mittelw. (weightloss R1)"},
      {"t": 4000, "w": 134.0, "series": "10 Periode gleit. Mittelw. (weightloss R1)"},
      {"t": 4013, "w": 133.4, "series": "10 Periode gleit. Mittelw. (weightloss R1)"},
      {"t": 4026, "w": 134.3, "series": "10 Periode gleit. Mittelw. (weightloss R1)"},
      {"t": 4039, "w": 134.9, "series": "10 Periode gleit. Mittelw. (weightloss R1)"},
      {"t": 4052, "w": 133.8, "series": "10 Periode gleit. Mittelw. (weightloss R1)"},
      {"t": 4065, "w": 133.0, "series": "10 Periode gleit. Mittelw. (weightloss R1)"},
      {"t": 4078, "w": 133.9, "series": "10 Periode gleit. Mittelw. (weightloss R1)"},
      {"t": 4091, "w": 133.8, "series": "10 Periode gleit. Mittelw. (weightloss R1)"},
      {"t": 4104, "w": 133.1, "series": "10 Periode gleit. Mittelw. (weightloss R1)"},
      {"t": 4117, "w": 132.6, "series": "10 Periode gleit. Mittelw. (weightloss R1)"},
      {"t": 4130, "w": 133.3, "series": "10 Periode gleit. Mittelw. (weightloss R1)"},
      {"t": 4143, "w": 133.6, "series": "10 Periode gleit. Mittelw. (weightloss R1)"},
      {"t": 4156, "w": 132.9, "series": "10 Periode gleit. Mittelw. (weightloss R1)"},
      {"t": 4169, "w": 133.4, "series": "10 Periode gleit. Mittelw. (weightloss R1)"},
      {"t": 4182, "w": 132.8, "series": "10 Periode gleit. Mittelw. (weightloss R1)"},
      {"t": 4195, "w": 133.3, "series": "10 Periode gleit. Mittelw. (weightloss R1)"},
      {"t": 4208, "w": 133.0, "series": "10 Periode gleit. Mittelw. (weightloss R1)"},
      {"t": 4221, "w": 133.8, "series": "10 Periode gleit. Mittelw. (weightloss R1)"},
      {"t": 4233, "w": 132.6, "series": "10 Periode gleit. Mittelw. (weightloss R1)"},
      {"t": 4246, "w": 133.0, "series": "10 Periode gleit. Mittelw. (weightloss R1)"},
      {"t": 4259, "w": 132.2, "series": "10 Periode gleit. Mittelw. (weightloss R1)"},
      {"t": 4272, "w": 132.9, "series": "10 Periode gleit. Mittelw. (weightloss R1)"},
      {"t": 4285, "w": 132.4, "series": "10 Periode gleit. Mittelw. (weightloss R1)"},
      {"t": 4298, "w": 132.0, "series": "10 Periode gleit. Mittelw. (weightloss R1)"},
      {"t": 4311, "w": 132.7, "series": "10 Periode gleit. Mittelw. (weightloss R1)"},
      {"t": 4324, "w": 133.9, "series": "10 Periode gleit. Mittelw. (weightloss R1)"},
      {"t": 4337, "w": 131.8, "series": "10 Periode gleit. Mittelw. (weightloss R1)"},
      {"t": 4350, "w": 132.6, "series": "10 Periode gleit. Mittelw. (weightloss R1)"},
      {"t": 4363, "w": 132.4, "series": "10 Periode gleit. Mittelw. (weightloss R1)"},
      {"t": 4376, "w": 131.6, "series": "10 Periode gleit. Mittelw. (weightloss R1)"},
      {"t": 4389, "w": 130.8, "series": "10 Periode gleit. Mittelw. (weightloss R1)"},
      {"t": 4402, "w": 131.5, "series": "10 Periode gleit. Mittelw. (weightloss R1)"},
      {"t": 4415, "w": 131.8, "series": "10 Periode gleit. Mittelw. (weightloss R1)"},
      {"t": 4428, "w": 131.1, "series": "10 Periode gleit. Mittelw. (weightloss R1)"},
      {"t": 4441, "w": 130.6, "series": "10 Periode gleit. Mittelw. (weightloss R1)"},
      {"t": 4454, "w": 131.4, "series": "10 Periode gleit. Mittelw. (weightloss R1)"},
      {"t": 4467, "w": 131.0, "series": "10 Periode gleit. Mittelw. (weightloss R1)"},
      {"t": 4479, "w": 131.4, "series": "10 Periode gleit. Mittelw. (weightloss R1)"},
      {"t": 4493, "w": 129.8, "series": "10 Periode gleit. Mittelw. (weightloss R1)"},
      {"t": 4505, "w": 130.7, "series": "10 Periode gleit. Mittelw. (weightloss R1)"},
      {"t": 4518, "w": 131.2, "series": "10 Periode gleit. Mittelw. (weightloss R1)"},
      {"t": 4531, "w": 130.5, "series": "10 Periode gleit. Mittelw. (weightloss R1)"},
      {"t": 4544, "w": 130.9, "series": "10 Periode gleit. Mittelw. (weightloss R1)"},
      {"t": 4557, "w": 130.4, "series": "10 Periode gleit. Mittelw. (weightloss R1)"},
      {"t": 4570, "w": 130.0, "series": "10 Periode gleit. Mittelw. (weightloss R1)"},
      {"t": 4583, "w": 130.6, "series": "10 Periode gleit. Mittelw. (weightloss R1)"},
      {"t": 4596, "w": 130.8, "series": "10 Periode gleit. Mittelw. (weightloss R1)"},
      {"t": 4609, "w": 130.1, "series": "10 Periode gleit. Mittelw. (weightloss R1)"},
      {"t": 4622, "w": 129.7, "series": "10 Periode gleit. Mittelw. (weightloss R1)"},
      {"t": 4635, "w": 129.8, "series": "10 Periode gleit. Mittelw. (weightloss R1)"},
      {"t": 4648, "w": 130.3, "series": "10 Periode gleit. Mittelw. (weightloss R1)"},
      {"t": 4661, "w": 129.5, "series": "10 Periode gleit. Mittelw. (weightloss R1)"},
      {"t": 4674, "w": 129.0, "series": "10 Periode gleit. Mittelw. (weightloss R1)"},
      {"t": 4687, "w": 129.9, "series": "10 Periode gleit. Mittelw. (weightloss R1)"},
      {"t": 4700, "w": 129.6, "series": "10 Periode gleit. Mittelw. (weightloss R1)"},
      {"t": 4713, "w": 130.2, "series": "10 Periode gleit. Mittelw. (weightloss R1)"},
      {"t": 4725, "w": 129.3, "series": "10 Periode gleit. Mittelw. (weightloss R1)"},
      {"t": 4738, "w": 129.4, "series": "10 Periode gleit. Mittelw. (weightloss R1)"},
      {"t": 4751, "w": 129.1, "series": "10 Periode gleit. Mittelw. (weightloss R1)"},
      {"t": 4765, "w": 128.8, "series": "10 Periode gleit. Mittelw. (weightloss R1)"},
      {"t": 4778, "w": 129.4, "series": "10 Periode gleit. Mittelw. (weightloss R1)"},
      {"t": 4790, "w": 128.6, "series": "10 Periode gleit. Mittelw. (weightloss R1)"},
      {"t": 4803, "w": 129.0, "series": "10 Periode gleit. Mittelw. (weightloss R1)"},
      {"t": 4816, "w": 128.4, "series": "10 Periode gleit. Mittelw. (weightloss R1)"},
      {"t": 4829, "w": 128.9, "series": "10 Periode gleit. Mittelw. (weightloss R1)"},
      {"t": 4842, "w": 128.2, "series": "10 Periode gleit. Mittelw. (weightloss R1)"},
      {"t": 4855, "w": 128.7, "series": "10 Periode gleit. Mittelw. (weightloss R1)"},
      {"t": 4868, "w": 128.0, "series": "10 Periode gleit. Mittelw. (weightloss R1)"},
      {"t": 4881, "w": 128.6, "series": "10 Periode gleit. Mittelw. (weightloss R1)"},
      {"t": 4894, "w": 127.9, "series": "10 Periode gleit. Mittelw. (weightloss R1)"},
      {"t": 4907, "w": 128.3, "series": "10 Periode gleit. Mittelw. (weightloss R1)"},
      {"t": 4920, "w": 127.6, "series": "10 Periode gleit. Mittelw. (weightloss R1)"},
      {"t": 4933, "w": 128.0, "series": "10 Periode gleit. Mittelw. (weightloss R1)"},
      {"t": 4946, "w": 127.5, "series": "10 Periode gleit. Mittelw. (weightloss R1)"},
      {"t": 4959, "w": 128.2, "series": "10 Periode gleit. Mittelw. (weightloss R1)"},
      {"t": 4971, "w": 127.2, "series": "10 Periode gleit. Mittelw. (weightloss R1)"},
      {"t": 4984, "w": 126.6, "series": "10 Periode gleit. Mittelw. (weightloss R1)"},
      {"t": 4997, "w": 128.4, "series": "10 Periode gleit. Mittelw. (weightloss R1)"},
      {"t": 5010, "w": 127.0, "series": "10 Periode gleit. Mittelw. (weightloss R1)"},
      {"t": 5023, "w": 126.2, "series": "10 Periode gleit. Mittelw. (weightloss R1)"},
      {"t": 5036, "w": 126.9, "series": "10 Periode gleit. Mittelw. (weightloss R1)"},
      {"t": 5049, "w": 126.8, "series": "10 Periode gleit. Mittelw. (weightloss R1)"},
      {"t": 5062, "w": 126.3, "series": "10 Periode gleit. Mittelw. (weightloss R1)"},
      {"t": 5075, "w": 126.7, "series": "10 Periode gleit. Mittelw. (weightloss R1)"},
      {"t": 5088, "w": 126.2, "series": "10 Periode gleit. Mittelw. (weightloss R1)"},
      {"t": 5101, "w": 126.6, "series": "10 Periode gleit. Mittelw. (weightloss R1)"},
      {"t": 5114, "w": 125.9, "series": "10 Periode gleit. Mittelw. (weightloss R1)"},
      {"t": 5127, "w": 126.4, "series": "10 Periode gleit. Mittelw. (weightloss R1)"},
      {"t": 5140, "w": 125.8, "series": "10 Periode gleit. Mittelw. (weightloss R1)"},
      {"t": 5153, "w": 126.3, "series": "10 Periode gleit. Mittelw. (weightloss R1)"},
      {"t": 5166, "w": 126.0, "series": "10 Periode gleit. Mittelw. (weightloss R1)"},
      {"t": 5179, "w": 125.5, "series": "10 Periode gleit. Mittelw. (weightloss R1)"},
      {"t": 5192, "w": 125.9, "series": "10 Periode gleit. Mittelw. (weightloss R1)"},
      {"t": 5205, "w": 125.5, "series": "10 Periode gleit. Mittelw. (weightloss R1)"},
      {"t": 5218, "w": 125.0, "series": "10 Periode gleit. Mittelw. (weightloss R1)"},
      {"t": 5231, "w": 125.6, "series": "10 Periode gleit. Mittelw. (weightloss R1)"},
      {"t": 5244, "w": 125.3, "series": "10 Periode gleit. Mittelw. (weightloss R1)"},
      {"t": 5256, "w": 125.1, "series": "10 Periode gleit. Mittelw. (weightloss R1)"},
      {"t": 5269, "w": 125.7, "series": "10 Periode gleit. Mittelw. (weightloss R1)"},
      {"t": 5282, "w": 125.6, "series": "10 Periode gleit. Mittelw. (weightloss R1)"},
      {"t": 5295, "w": 124.9, "series": "10 Periode gleit. Mittelw. (weightloss R1)"},
      {"t": 5308, "w": 125.3, "series": "10 Periode gleit. Mittelw. (weightloss R1)"},
      {"t": 5321, "w": 124.7, "series": "10 Periode gleit. Mittelw. (weightloss R1)"},
      {"t": 5334, "w": 125.1, "series": "10 Periode gleit. Mittelw. (weightloss R1)"},
      {"t": 5347, "w": 124.5, "series": "10 Periode gleit. Mittelw. (weightloss R1)"},
      {"t": 5356, "w": 125.0, "series": "10 Periode gleit. Mittelw. (weightloss R1)"},
      {"t": 5366, "w": 127.2, "series": "10 Periode gleit. Mittelw. (weightloss R1)"},
      {"t": 5376, "w": 124.8, "series": "10 Periode gleit. Mittelw. (weightloss R1)"},
      {"t": 5386, "w": 124.5, "series": "10 Periode gleit. Mittelw. (weightloss R1)"},
      {"t": 5399, "w": 125.0, "series": "10 Periode gleit. Mittelw. (weightloss R1)"},
      {"t": 5412, "w": 124.9, "series": "10 Periode gleit. Mittelw. (weightloss R1)"},
      {"t": 5425, "w": 124.2, "series": "10 Periode gleit. Mittelw. (weightloss R1)"},
      {"t": 5438, "w": 123.9, "series": "10 Periode gleit. Mittelw. (weightloss R1)"},
      {"t": 5451, "w": 124.5, "series": "10 Periode gleit. Mittelw. (weightloss R1)"},
      {"t": 5464, "w": 124.3, "series": "10 Periode gleit. Mittelw. (weightloss R1)"},
      {"t": 5477, "w": 123.6, "series": "10 Periode gleit. Mittelw. (weightloss R1)"},
      {"t": 5490, "w": 123.1, "series": "10 Periode gleit. Mittelw. (weightloss R1)"},
      {"t": 5503, "w": 123.8, "series": "10 Periode gleit. Mittelw. (weightloss R1)"},
      {"t": 5515, "w": 124.1, "series": "10 Periode gleit. Mittelw. (weightloss R1)"},
      {"t": 5528, "w": 123.3, "series": "10 Periode gleit. Mittelw. (weightloss R1)"},
      {"t": 5541, "w": 121.5, "series": "10 Periode gleit. Mittelw. (weightloss R1)"},
      {"t": 5554, "w": 123.3, "series": "10 Periode gleit. Mittelw. (weightloss R1)"},
      {"t": 5567, "w": 122.8, "series": "10 Periode gleit. Mittelw. (weightloss R1)"},
      {"t": 5580, "w": 123.2, "series": "10 Periode gleit. Mittelw. (weightloss R1)"},
      {"t": 5593, "w": 122.9, "series": "10 Periode gleit. Mittelw. (weightloss R1)"},
      {"t": 5606, "w": 122.5, "series": "10 Periode gleit. Mittelw. (weightloss R1)"},
      {"t": 5619, "w": 123.5, "series": "10 Periode gleit. Mittelw. (weightloss R1)"},
      {"t": 5632, "w": 122.6, "series": "10 Periode gleit. Mittelw. (weightloss R1)"},
      {"t": 5645, "w": 122.1, "series": "10 Periode gleit. Mittelw. (weightloss R1)"},
      {"t": 5658, "w": 122.7, "series": "10 Periode gleit. Mittelw. (weightloss R1)"},
      {"t": 5671, "w": 122.0, "series": "10 Periode gleit. Mittelw. (weightloss R1)"},
      {"t": 5684, "w": 122.6, "series": "10 Periode gleit. Mittelw. (weightloss R1)"},
      {"t": 5697, "w": 122.3, "series": "10 Periode gleit. Mittelw. (weightloss R1)"},
      {"t": 5710, "w": 121.8, "series": "10 Periode gleit. Mittelw. (weightloss R1)"},
      {"t": 5723, "w": 121.7, "series": "10 Periode gleit. Mittelw. (weightloss R1)"},
      {"t": 5735, "w": 122.2, "series": "10 Periode gleit. Mittelw. (weightloss R1)"},
      {"t": 5748, "w": 123.5, "series": "10 Periode gleit. Mittelw. (weightloss R1)"},
      {"t": 5756, "w": 120.7, "series": "10 Periode gleit. Mittelw. (weightloss R1)"},
      {"t": 5769, "w": 121.7, "series": "10 Periode gleit. Mittelw. (weightloss R1)"},
      {"t": 5787, "w": 121.5, "series": "10 Periode gleit. Mittelw. (weightloss R1)"},
      {"t": 5800, "w": 120.8, "series": "10 Periode gleit. Mittelw. (weightloss R1)"},
      {"t": 5813, "w": 121.1, "series": "10 Periode gleit. Mittelw. (weightloss R1)"},
      {"t": 5826, "w": 120.5, "series": "10 Periode gleit. Mittelw. (weightloss R1)"},
      {"t": 5839, "w": 121.2, "series": "10 Periode gleit. Mittelw. (weightloss R1)"},
      {"t": 5852, "w": 120.7, "series": "10 Periode gleit. Mittelw. (weightloss R1)"},
      {"t": 5865, "w": 120.2, "series": "10 Periode gleit. Mittelw. (weightloss R1)"},
      {"t": 5878, "w": 120.8, "series": "10 Periode gleit. Mittelw. (weightloss R1)"},
      {"t": 5891, "w": 120.3, "series": "10 Periode gleit. Mittelw. (weightloss R1)"},
      {"t": 5904, "w": 120.6, "series": "10 Periode gleit. Mittelw. (weightloss R1)"},
      {"t": 5917, "w": 119.9, "series": "10 Periode gleit. Mittelw. (weightloss R1)"},
      {"t": 5930, "w": 120.2, "series": "10 Periode gleit. Mittelw. (weightloss R1)"},
      {"t": 5943, "w": 120.5, "series": "10 Periode gleit. Mittelw. (weightloss R1)"},
      {"t": 5956, "w": 119.8, "series": "10 Periode gleit. Mittelw. (weightloss R1)"},
      {"t": 5969, "w": 119.5, "series": "10 Periode gleit. Mittelw. (weightloss R1)"},
      {"t": 5982, "w": 119.7, "series": "10 Periode gleit. Mittelw. (weightloss R1)"},
      {"t": 5995, "w": 118.9, "series": "10 Periode gleit. Mittelw. (weightloss R1)"},
      {"t": 6008, "w": 119.5, "series": "10 Periode gleit. Mittelw. (weightloss R1)"},
      {"t": 6020, "w": 119.9, "series": "10 Periode gleit. Mittelw. (weightloss R1)"},
      {"t": 6033, "w": 119.2, "series": "10 Periode gleit. Mittelw. (weightloss R1)"},
      {"t": 6046, "w": 119.3, "series": "10 Periode gleit. Mittelw. (weightloss R1)"},
      {"t": 6059, "w": 118.9, "series": "10 Periode gleit. Mittelw. (weightloss R1)"},
      {"t": 6072, "w": 119.7, "series": "10 Periode gleit. Mittelw. (weightloss R1)"},
      {"t": 6085, "w": 118.8, "series": "10 Periode gleit. Mittelw. (weightloss R1)"},
      {"t": 6098, "w": 119.1, "series": "10 Periode gleit. Mittelw. (weightloss R1)"},
      {"t": 6111, "w": 118.5, "series": "10 Periode gleit. Mittelw. (weightloss R1)"},
      {"t": 6124, "w": 118.7, "series": "10 Periode gleit. Mittelw. (weightloss R1)"},
      {"t": 6137, "w": 118.2, "series": "10 Periode gleit. Mittelw. (weightloss R1)"},
      {"t": 6150, "w": 118.6, "series": "10 Periode gleit. Mittelw. (weightloss R1)"},
      {"t": 6163, "w": 118.0, "series": "10 Periode gleit. Mittelw. (weightloss R1)"},
      {"t": 6170, "w": 118.6, "series": "10 Periode gleit. Mittelw. (weightloss R1)"},
      {"t": 6176, "w": 119.7, "series": "10 Periode gleit. Mittelw. (weightloss R1)"},
      {"t": 6182, "w": 117.9, "series": "10 Periode gleit. Mittelw. (weightloss R1)"},
      {"t": 6189, "w": 117.6, "series": "10 Periode gleit. Mittelw. (weightloss R1)"},
      {"t": 6202, "w": 118.1, "series": "10 Periode gleit. Mittelw. (weightloss R1)"},
      {"t": 6215, "w": 117.8, "series": "10 Periode gleit. Mittelw. (weightloss R1)"},
      {"t": 6228, "w": 117.3, "series": "10 Periode gleit. Mittelw. (weightloss R1)"},
      {"t": 6241, "w": 116.8, "series": "10 Periode gleit. Mittelw. (weightloss R1)"},
      {"t": 6254, "w": 117.6, "series": "10 Periode gleit. Mittelw. (weightloss R1)"},
      {"t": 6267, "w": 117.0, "series": "10 Periode gleit. Mittelw. (weightloss R1)"},
      {"t": 6280, "w": 117.5, "series": "10 Periode gleit. Mittelw. (weightloss R1)"},
      {"t": 6292, "w": 117.2, "series": "10 Periode gleit. Mittelw. (weightloss R1)"},
      {"t": 6305, "w": 116.6, "series": "10 Periode gleit. Mittelw. (weightloss R1)"},
      {"t": 6319, "w": 116.8, "series": "10 Periode gleit. Mittelw. (weightloss R1)"},
      {"t": 6332, "w": 116.3, "series": "10 Periode gleit. Mittelw. (weightloss R1)"},
      {"t": 6345, "w": 117.0, "series": "10 Periode gleit. Mittelw. (weightloss R1)"},
      {"t": 6358, "w": 116.4, "series": "10 Periode gleit. Mittelw. (weightloss R1)"},
      {"t": 6370, "w": 115.2, "series": "10 Periode gleit. Mittelw. (weightloss R1)"},
      {"t": 6376, "w": 116.3, "series": "10 Periode gleit. Mittelw. (weightloss R1)"},
      {"t": 6383, "w": 116.6, "series": "10 Periode gleit. Mittelw. (weightloss R1)"},
      {"t": 6390, "w": 115.4, "series": "10 Periode gleit. Mittelw. (weightloss R1)"},
      {"t": 6396, "w": 115.6, "series": "10 Periode gleit. Mittelw. (weightloss R1)"},
      {"t": 6402, "w": 116.5, "series": "10 Periode gleit. Mittelw. (weightloss R1)"},
      {"t": 6409, "w": 117.0, "series": "10 Periode gleit. Mittelw. (weightloss R1)"}
    ]
  },
  "layer": [
    {
      "layer": [
        {
          "data": {"name": "minorX"},
          "mark": {"type": "rule", "color": "#cdcdcd", "strokeWidth": 1.3},
          "encoding": {
            "x": {
              "field": "t", "type": "quantitative", "title": "time [s]",
              "scale": {"domain": [0, 7000], "nice": false, "zero": false},
              "axis": {
                "values": [0, 1000, 2000, 3000, 4000, 5000, 6000, 7000],
                "labelExpr": "replace(format(datum.value, '.2f'), '.', ',')",
                "grid": true,
                "tickSize": 7,
                "labelPadding": 11,
                "titleX": 450,
                "titleY": 67,
                "titleBaseline": "middle",
                "titleAnchor": null
              }
            }
          }
        },
        {
          "data": {"name": "minorY"},
          "mark": {"type": "rule", "color": "#cdcdcd", "strokeWidth": 1.3},
          "encoding": {
            "y": {
              "field": "w", "type": "quantitative", "title": "weightloss [g]",
              "scale": {"domain": [100, 180], "nice": false, "zero": false},
              "axis": {
                "orient": "left",
                "values": [100, 110, 120, 130, 140, 150, 160, 170, 180],
                "labelExpr": "replace(format(datum.value, '.2f'), '.', ',')",
                "grid": true,
                "tickSize": 6,
                "labelPadding": 17,
                "titleAngle": 270,
                "titleX": -110,
                "titleY": 337,
                "titleBaseline": "middle",
                "titleAlign": "center"
              }
            }
          }
        },
        {
          "data": {"name": "phaseLabels"},
          "mark": {"type": "text", "font": "Liberation Sans", "fontSize": 35, "fontWeight": "bold", "color": "#000000", "align": "center", "baseline": "middle"},
          "encoding": {
            "x": {"field": "t", "type": "quantitative", "title": "time [s]"},
            "y": {"field": "w", "type": "quantitative", "title": "weightloss [g]"},
            "text": {"field": "label"}
          }
        }
      ]
    },
    {
      "layer": [
        {
          "data": {"name": "gas"},
          "mark": {"type": "line", "strokeWidth": 4.5, "strokeJoin": "miter"},
          "encoding": {
            "x": {"field": "t", "type": "quantitative", "title": "time [s]"},
            "y": {
              "field": "v", "type": "quantitative",
              "title": "temperature sample [°C]\u00a0\u00a0\u00a0\u00a0\u00a0 gas flow \u00a0[l/min]",
              "scale": {"domain": [0, 900], "nice": false, "zero": true},
              "axis": {
                "orient": "right",
                "values": [0, 100, 200, 300, 400, 500, 600, 700, 800, 900],
                "grid": false,
                "tickSize": 6,
                "labelPadding": 6,
                "titleAngle": 270,
                "titleX": 106,
                "titleY": 314,
                "titleBaseline": "middle",
                "titleAlign": "center"
              }
            },
            "color": {
              "field": "series", "type": "nominal",
              "scale": {
                "domain": ["temperature sample", "10 Periode gleit. Mittelw. (weightloss R3)", "10 Periode gleit. Mittelw. (weightloss R1)", "entire gas flow [l/min]", "10 Periode gleit. Mittelw. (weightloss R2)"],
                "range": ["#E4813A", "#3E6AAA", "#87A846", "#95B3D7", "#B0413E"]
              },
              "legend": {
                "title": null,
                "encode": {"symbols": {"update": {"strokeWidth": {"signal": "datum.value === 'temperature sample' || datum.value === 'entire gas flow [l/min]' ? 5 : 1.6"}}}}
              }
            }
          }
        },
        {
          "data": {"name": "temp"},
          "mark": {"type": "line", "strokeWidth": 5, "strokeJoin": "round"},
          "encoding": {
            "x": {"field": "t", "type": "quantitative", "title": "time [s]"},
            "y": {"field": "v", "type": "quantitative"},
            "color": {"field": "series", "type": "nominal"}
          }
        }
      ]
    },
    {
      "layer": [
        {
          "data": {"name": "weight"},
          "mark": {"type": "line", "strokeWidth": 1.2},
          "encoding": {
            "x": {"field": "t", "type": "quantitative", "title": "time [s]"},
            "y": {
              "field": "w", "type": "quantitative",
              "scale": {"domain": [100, 180], "nice": false, "zero": false},
              "axis": null
            },
            "color": {"field": "series", "type": "nominal"}
          }
        },
        {
          "data": {"name": "phaseBounds"},
          "mark": {"type": "rule", "color": "#7f7f7f", "strokeWidth": 4.5},
          "encoding": {
            "x": {"field": "t", "type": "quantitative", "title": "time [s]"}
          }
        }
      ]
    }
  ],
  "resolve": {"scale": {"y": "independent"}}
}
